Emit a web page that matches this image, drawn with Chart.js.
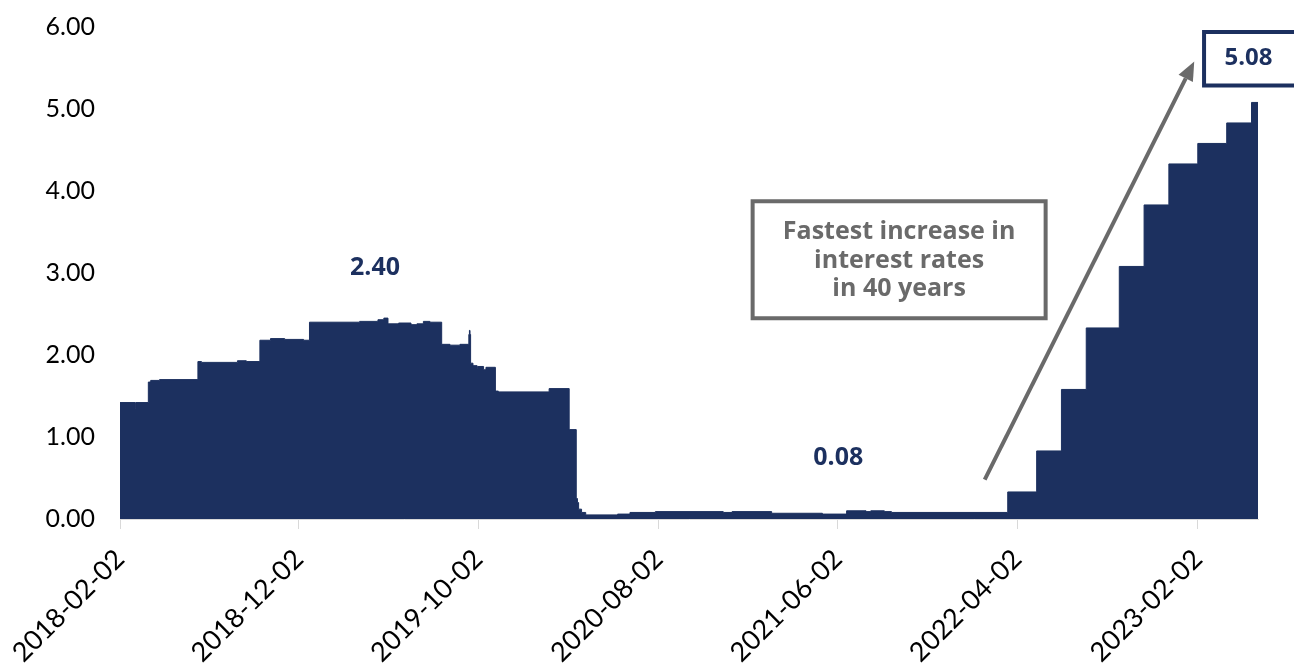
<!DOCTYPE html>
<html>
<head>
<meta charset="utf-8">
<script src="https://cdn.jsdelivr.net/npm/chart.js@4.4.1/dist/chart.umd.min.js"></script>
<style>
  html, body { margin: 0; padding: 0; background: #ffffff; }
  #wrap { width: 1294px; height: 664px; position: relative; }
</style>
</head>
<body>
<div id="wrap"><canvas id="chart"></canvas></div>
<script>
// Effective federal funds rate (%), stored as change points:
// each rate holds from its date until the next date.
const rateDates = [
  '2018-02-02', '2018-02-28', '2018-03-01', '2018-03-22', '2018-03-26', '2018-04-10',
  '2018-06-14', '2018-06-20', '2018-08-20', '2018-09-04', '2018-09-27', '2018-10-15',
  '2018-11-08', '2018-12-10', '2018-12-20',
  '2019-03-15', '2019-04-15', '2019-04-25', '2019-05-02', '2019-05-20', '2019-06-10',
  '2019-06-20', '2019-07-01', '2019-07-12', '2019-08-01', '2019-08-15', '2019-09-01',
  '2019-09-16', '2019-09-17', '2019-09-18', '2019-09-19', '2019-09-23', '2019-09-30',
  '2019-10-01', '2019-10-11', '2019-10-15', '2019-10-31', '2019-11-05',
  '2020-01-30', '2020-03-04', '2020-03-16', '2020-03-18', '2020-03-20', '2020-03-25',
  '2020-04-01', '2020-05-25', '2020-06-15', '2020-07-28', '2020-11-20', '2020-12-05',
  '2021-02-10', '2021-05-07', '2021-06-17', '2021-07-20', '2021-07-28', '2021-08-20',
  '2021-09-01',
  '2022-03-17', '2022-05-05', '2022-06-16', '2022-07-28', '2022-09-22', '2022-11-03',
  '2022-12-15', '2023-02-02', '2023-03-23', '2023-05-04', '2023-05-15'
];
const rates = [
  1.42, 1.35, 1.42, 1.67, 1.69, 1.70,
  1.92, 1.91, 1.93, 1.92, 2.18, 2.20,
  2.19, 2.18, 2.40,
  2.41, 2.43, 2.45, 2.38, 2.39, 2.37,
  2.38, 2.41, 2.40, 2.13, 2.12, 2.13,
  2.25, 2.30, 2.25, 1.90, 1.87, 1.83,
  1.86, 1.82, 1.85, 1.56, 1.55,
  1.59, 1.09, 0.25, 0.20, 0.12, 0.08,
  0.05, 0.06, 0.08, 0.09, 0.08, 0.09,
  0.07, 0.06, 0.10, 0.09, 0.10, 0.09,
  0.08,
  0.33, 0.83, 1.58, 2.33, 3.08, 3.83,
  4.33, 4.58, 4.83, 5.08, 5.08
];

// Dates shown on the horizontal axis
const tickDates = ['2018-02-02', '2018-12-02', '2019-10-02', '2020-08-02', '2021-06-02', '2022-04-02', '2023-02-02'];
// Y axis tick values
const yTicks = [0, 1, 2, 3, 4, 5, 6];

// Call-outs
const peakNote = { date: '2019-04-10', value: 2.40 };
const lowNote = { date: '2021-06-03', value: 0.08 };
const latestNote = { date: '2023-04-29', value: 5.08 };
const calloutLines = ['Fastest increase in', 'interest rates', 'in 40 years'];
const calloutAnchor = { date: '2021-09-14', value: 3.15 };
const arrowFrom = { date: '2022-02-06', value: 0.48 };
const arrowTo = { date: '2023-01-27', value: 5.58 };

const NAVY = '#1c305f';
const GREY = '#6a6a6a';
const AXIS = '#d9d9d9';
const NOTE_FONT = '"Open Sans", Lato, sans-serif';
const DAY_MS = 86400000;
const ORIGIN = Date.UTC(2018, 1, 2);

function dayNum(s) {
  const [y, m, d] = s.split('-').map(Number);
  return Math.round((Date.UTC(y, m - 1, d) - ORIGIN) / DAY_MS);
}
function dayLabel(n) {
  const dt = new Date(ORIGIN + n * DAY_MS);
  const p = v => String(v).padStart(2, '0');
  return dt.getUTCFullYear() + '-' + p(dt.getUTCMonth() + 1) + '-' + p(dt.getUTCDate());
}

const points = rateDates.map((d, i) => ({ x: dayNum(d), y: rates[i] }));

const notesPlugin = {
  id: 'rateNotes',
  afterDatasetsDraw(chart) {
    const { ctx } = chart;
    const xs = chart.scales.x, ys = chart.scales.y;
    const px = d => xs.getPixelForValue(dayNum(d));
    const py = v => ys.getPixelForValue(v);
    ctx.save();

    // value labels above the series
    ctx.font = 'bold 25px ' + NOTE_FONT;
    ctx.fillStyle = NAVY;
    ctx.textAlign = 'center';
    ctx.textBaseline = 'middle';
    ctx.fillText(peakNote.value.toFixed(2), px(peakNote.date), py(peakNote.value) - 54);
    ctx.fillText(lowNote.value.toFixed(2), px(lowNote.date), py(lowNote.value) - 55);

    // latest value in a framed box
    const ex = px(latestNote.date), ey = py(latestNote.value) - 45;
    ctx.lineWidth = 4;
    ctx.strokeStyle = NAVY;
    ctx.fillStyle = '#ffffff';
    ctx.beginPath();
    ctx.rect(ex - 44.5, ey - 25.5, 100, 53.5);
    ctx.fill();
    ctx.stroke();
    ctx.fillStyle = NAVY;
    ctx.font = 'bold 24px ' + NOTE_FONT;
    ctx.fillText(latestNote.value.toFixed(2), ex, ey + 1);

    // arrow
    const ax0 = px(arrowFrom.date), ay0 = py(arrowFrom.value);
    const ax1 = px(arrowTo.date), ay1 = py(arrowTo.value);
    const ang = Math.atan2(ay1 - ay0, ax1 - ax0);
    const headLen = 19, headHalf = 8;
    const bx = ax1 - headLen * Math.cos(ang), by = ay1 - headLen * Math.sin(ang);
    ctx.strokeStyle = GREY;
    ctx.fillStyle = GREY;
    ctx.lineWidth = 4;
    ctx.beginPath();
    ctx.moveTo(ax0, ay0);
    ctx.lineTo(bx, by);
    ctx.stroke();
    ctx.beginPath();
    ctx.moveTo(ax1, ay1);
    ctx.lineTo(bx + headHalf * Math.sin(ang), by - headHalf * Math.cos(ang));
    ctx.lineTo(bx - headHalf * Math.sin(ang), by + headHalf * Math.cos(ang));
    ctx.closePath();
    ctx.fill();

    // call-out text box
    const cx = px(calloutAnchor.date), cy = py(calloutAnchor.value);
    ctx.lineWidth = 4;
    ctx.strokeStyle = GREY;
    ctx.fillStyle = '#ffffff';
    ctx.beginPath();
    ctx.rect(cx - 146.5, cy - 59.5, 293, 117);
    ctx.fill();
    ctx.stroke();
    ctx.fillStyle = GREY;
    ctx.font = 'bold 25px ' + NOTE_FONT;
    const lh = 28.5;
    calloutLines.forEach((t, i) => {
      ctx.fillText(t, cx, cy + (i - 1) * lh);
    });

    ctx.restore();
  }
};

new Chart(document.getElementById('chart'), {
  type: 'line',
  data: {
    datasets: [{
      data: points,
      stepped: true,
      fill: 'origin',
      backgroundColor: NAVY,
      borderColor: NAVY,
      borderWidth: 1,
      pointRadius: 0
    }]
  },
  options: {
    responsive: true,
    maintainAspectRatio: false,
    animation: false,
    devicePixelRatio: 1,
    layout: { padding: { top: 27, right: 36, bottom: 0, left: 0 } },
    plugins: {
      legend: { display: false },
      tooltip: { enabled: false }
    },
    scales: {
      x: {
        type: 'linear',
        min: dayNum(rateDates[0]),
        max: dayNum(rateDates[rateDates.length - 1]),
        afterBuildTicks(scale) {
          scale.ticks = tickDates.map(d => ({ value: dayNum(d) }));
        },
        afterFit(scale) { scale.height = 145; },
        ticks: {
          autoSkip: false,
          maxRotation: 45,
          minRotation: 45,
          padding: 14,
          color: '#000000',
          font: { family: 'Lato', size: 27 },
          callback: v => dayLabel(v)
        },
        grid: {
          display: true,
          drawOnChartArea: false,
          drawTicks: true,
          tickLength: 10,
          color: AXIS,
          lineWidth: 1
        },
        border: { display: true, color: AXIS, width: 1 }
      },
      y: {
        min: 0,
        max: 6,
        afterBuildTicks(scale) {
          scale.ticks = yTicks.map(v => ({ value: v }));
        },
        afterFit(scale) {
          scale.width = 120;
          scale.paddingTop = 0;
          scale.paddingBottom = 0;
        },
        ticks: {
          padding: 25,
          color: '#000000',
          font: { family: 'Lato', size: 25 },
          callback: v => Number(v).toFixed(2)
        },
        grid: { display: false, drawTicks: false },
        border: { display: false }
      }
    }
  },
  plugins: [notesPlugin]
});
</script>
</body>
</html>
